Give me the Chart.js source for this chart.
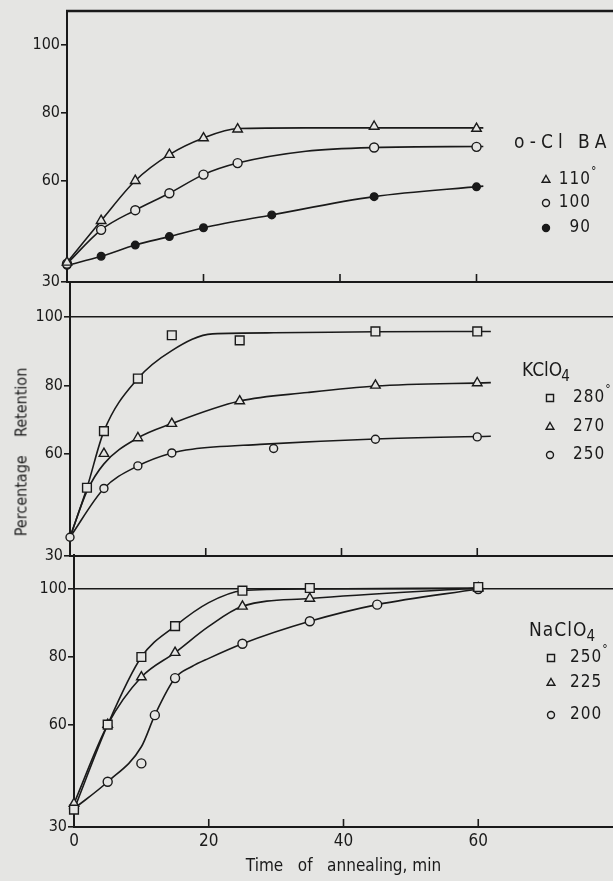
<!DOCTYPE html>
<html>
<head>
<meta charset="utf-8">
<script src="https://cdn.jsdelivr.net/npm/chart.js@4/dist/chart.umd.min.js"></script>
<style>
    html, body { margin: 0; padding: 0; }
    body { width: 613px; height: 881px; background: #e5e5e3; position: relative; overflow: hidden; }
    canvas { position: absolute; left: 0; }
    #yTitle {
        position: absolute; left: 21px; top: 452px;
        transform: translate(-50%, -50%) rotate(-90deg);
        white-space: pre; color: #1c1c1c;
        font: 16px 'DejaVu Sans Condensed', 'Liberation Sans Narrow', 'DejaVu Sans', sans-serif;
    }
</style>
</head>
<body>
<canvas id="panel1" width="613" height="291" style="top:1px"></canvas>
<canvas id="panel2" width="613" height="293" style="top:273px"></canvas>
<canvas id="panel3" width="613" height="336" style="top:545px"></canvas>
<div id="yTitle">Percentage    Retention</div>
<script>
// Axis ticks
const yTicks = [30, 60, 80, 100];
const xTicks = [0, 20, 40, 60];
const innerTicks = [20, 40, 60];

// o-Cl BA (110°, 100°, 90°)
const ocbaTemps = ['110', '100', '90'];
const ocbaTime = [0, 5, 10, 15, 20, 25, 45, 60];
const ocba110 = [35.8, 48.1, 59.9, 67.6, 72.5, 75.1, 75.9, 75.3];
const ocba100 = [35.4, 45.4, 51.2, 56.2, 61.7, 65.1, 69.7, 69.9];
const ocba90Time = [0, 5, 10, 15, 20, 30, 45, 60];
const ocba90 = [34.9, 37.6, 40.9, 43.4, 46.0, 49.8, 55.2, 58.1];
// drawn curves
const ocba110FitTime = [0, 5, 10, 15, 20, 25, 35, 45, 61];
const ocba110Fit = [35.8, 48.1, 59.9, 67.6, 72.5, 75.3, 75.5, 75.5, 75.5];
const ocba100FitTime = [0, 5, 10, 15, 20, 25, 35, 45, 61];
const ocba100Fit = [35.4, 45.4, 51.2, 56.2, 61.7, 65.1, 68.6, 69.7, 70.0];
const ocba90FitTime = [0, 5, 10, 15, 20, 30, 45, 61];
const ocba90Fit = [34.9, 37.6, 40.9, 43.4, 46.0, 49.8, 55.2, 58.3];

// KClO4 (280°, 270°, 250°)
const kcioTemps = ['280', '270', '250'];
const kcio280Time = [2.5, 5, 10, 15, 25, 45, 60];
const kcio280 = [50.0, 66.6, 82.0, 94.7, 93.2, 95.8, 95.8];
const kcio270Time = [5, 10, 15, 25, 45, 60];
const kcio270 = [60.0, 64.6, 68.8, 75.4, 80.0, 80.7];
const kcio250Time = [0, 5, 10, 15, 30, 45, 60];
const kcio250 = [35.5, 49.8, 56.4, 60.2, 61.5, 64.2, 64.9];
const kcio280FitTime = [0, 2.5, 5, 10, 15, 21, 30, 45, 62];
const kcio280Fit = [35.5, 50.0, 66.6, 82.0, 90.2, 95.1, 95.4, 95.7, 95.8];
const kcio270FitTime = [0, 2.5, 5, 10, 15, 25, 35, 45, 62];
const kcio270Fit = [35.5, 49.0, 57.0, 64.6, 68.8, 75.4, 77.9, 79.8, 80.8];
const kcio250FitTime = [0, 5, 10, 15, 18, 28, 45, 62];
const kcio250Fit = [35.5, 49.8, 56.4, 60.2, 61.3, 62.7, 64.3, 65.1];

// NaClO4 (250°, 225°, 200°)
const nacioTemps = ['250', '225', '200'];
const nacio250Time = [0, 5, 10, 15, 25, 35, 60];
const nacio250 = [35.1, 60.1, 80.0, 89.1, 99.5, 100.3, 100.6];
const nacio225Time = [0, 5, 10, 15, 25, 35, 60];
const nacio225 = [36.9, 60.1, 74.1, 81.3, 94.9, 97.2, 100.3];
const nacio200Time = [0, 5, 10, 12, 15, 25, 35, 45, 60];
const nacio200 = [35.4, 43.3, 48.7, 62.9, 73.8, 83.9, 90.5, 95.4, 100.0];
const nacio250FitTime = [0, 5, 10, 15, 20, 25, 35, 60];
const nacio250Fit = [35.1, 60.1, 80.0, 89.1, 96.0, 99.5, 100.0, 100.3];
const nacio225FitTime = [0, 5, 10, 15, 20, 25, 35, 60];
const nacio225Fit = [36.9, 60.1, 74.1, 81.3, 89.0, 94.9, 97.2, 100.3];
const nacio200FitTime = [0, 5, 10, 12, 15, 17.5, 20, 25, 35, 45, 60];
const nacio200Fit = [35.4, 43.3, 53.6, 62.9, 73.8, 77.2, 79.6, 83.9, 90.5, 95.4, 100.0];

const INK = '#1a1a1a';
const PAPER = '#e5e5e3';
const FONT = "'DejaVu Sans Condensed', 'Liberation Sans Narrow', 'DejaVu Sans', sans-serif";

function xy(times, vals) {
    return times.map((t, i) => ({ x: t, y: vals[i] }));
}

function markers(label, times, vals, style, radius, filled) {
    return {
        label: label,
        data: xy(times, vals),
        showLine: false,
        order: 0,
        clip: false,
        pointStyle: style,
        pointRadius: radius,
        pointHoverRadius: radius,
        pointBorderWidth: 1.4,
        pointBorderColor: INK,
        pointBackgroundColor: filled ? INK : PAPER
    };
}

function curve(times, vals) {
    return {
        data: xy(times, vals),
        showLine: true,
        order: 1,
        clip: false,
        pointRadius: 0,
        borderColor: INK,
        borderWidth: 1.6,
        cubicInterpolationMode: 'monotone'
    };
}

// legend in the right margin of each panel
const panelLegend = {
    id: 'panelLegend',
    afterDatasetsDraw(chart, args, opts) {
        const ctx = chart.ctx;
        ctx.save();
        ctx.textBaseline = 'middle';
        ctx.textAlign = 'left';
        ctx.fillStyle = INK;
        ctx.font = opts.titleSize + 'px ' + FONT;
        ctx.letterSpacing = opts.titleSpacing + 'px';
        ctx.fillText(opts.title, opts.titleX, opts.titleY);
        if (opts.sub) {
            const w = ctx.measureText(opts.title).width;
            ctx.font = Math.round(opts.titleSize * 0.8) + 'px ' + FONT;
            ctx.fillText(opts.sub, opts.titleX + w - 1, opts.titleY + 6);
        }
        opts.rowY.forEach((y, i) => {
            const ds = chart.data.datasets[i];
            ctx.strokeStyle = INK;
            ctx.lineWidth = 1.4;
            ctx.fillStyle = ds.pointBackgroundColor;
            Chart.helpers.drawPoint(ctx, {
                pointStyle: ds.pointStyle,
                radius: opts.markerRadius[i],
                borderWidth: 1.4,
                rotation: 0
            }, opts.markerX, y);
            ctx.fillStyle = INK;
            ctx.font = opts.rowSize + 'px ' + FONT;
            ctx.letterSpacing = opts.rowSpacing + 'px';
            ctx.textAlign = opts.rowAlign;
            ctx.fillText(ds.label, opts.textX, y);
            if (i === 0) {
                ctx.textAlign = 'left';
                const w = opts.rowAlign === 'left' ? ctx.measureText(ds.label).width : 0;
                ctx.font = '12px ' + FONT;
                ctx.letterSpacing = '0px';
                ctx.fillText('°', opts.textX + w, y - 8);
            }
        });
        ctx.restore();
    }
};

// inward ticks on the bottom axis and the top frame line
const panelFrame = {
    id: 'panelFrame',
    afterDraw(chart, args, opts) {
        const { ctx, chartArea: a, scales: { x } } = chart;
        ctx.save();
        ctx.strokeStyle = INK;
        ctx.lineWidth = 1.6;
        innerTicks.forEach(v => {
            const px = x.getPixelForValue(v);
            ctx.beginPath();
            ctx.moveTo(px, a.bottom);
            ctx.lineTo(px, a.bottom - 8);
            ctx.stroke();
        });
        if (opts.top) {
            ctx.lineWidth = 2.5;
            ctx.beginPath();
            ctx.moveTo(a.left - 1, a.top);
            ctx.lineTo(a.right, a.top);
            ctx.stroke();
        }
        ctx.restore();
    }
};

function makePanel(id, cfg) {
    return new Chart(document.getElementById(id), {
        type: 'scatter',
        data: { datasets: cfg.datasets },
        options: {
            responsive: false,
            animation: false,
            devicePixelRatio: 1,
            events: [],
            layout: { autoPadding: false, padding: { top: 10, left: 0, right: 0, bottom: 0 } },
            plugins: {
                legend: { display: false },
                tooltip: { enabled: false },
                panelLegend: cfg.legend,
                panelFrame: { top: cfg.frameTop }
            },
            scales: {
                x: {
                    type: 'linear',
                    min: 0,
                    max: 80,
                    afterBuildTicks: s => { s.ticks = xTicks.map(v => ({ value: v })); },
                    afterFit: s => { s.height = cfg.bottom; s.paddingLeft = 0; s.paddingRight = 0; },
                    border: { color: INK, width: 2 },
                    grid: { display: false, drawTicks: false },
                    ticks: { display: cfg.xLabels, color: INK, padding: 4, maxRotation: 0, font: { family: FONT, size: 17 } },
                    title: {
                        display: cfg.xLabels,
                        text: 'Time   of   annealing, min',
                        color: INK,
                        font: { family: FONT, size: 17 },
                        padding: { top: 0, bottom: 4 }
                    }
                },
                y: {
                    type: 'linear',
                    min: 30,
                    max: 110,
                    afterBuildTicks: s => { s.ticks = yTicks.map(v => ({ value: v })); },
                    afterFit: s => { s.width = cfg.left; s.paddingTop = 0; s.paddingBottom = 0; },
                    border: { color: INK, width: 2 },
                    grid: {
                        drawOnChartArea: true,
                        color: c => (cfg.rule100 && c.tick && c.tick.value === 100) ? INK : 'rgba(0,0,0,0)',
                        lineWidth: 1.6,
                        tickColor: INK,
                        tickWidth: 1.6,
                        tickLength: 6
                    },
                    ticks: { color: INK, padding: 1, font: { family: FONT, size: 16 } }
                }
            }
        },
        plugins: [panelLegend, panelFrame]
    });
}

makePanel('panel1', {
    left: 67, bottom: 10, frameTop: true, rule100: false, xLabels: false,
    datasets: [
        markers(ocbaTemps[0], ocbaTime, ocba110, 'triangle', 5.5, false),
        markers(ocbaTemps[1], ocbaTime, ocba100, 'circle', 4.5, false),
        markers(ocbaTemps[2], ocba90Time, ocba90, 'circle', 3.8, true),
        curve(ocba110FitTime, ocba110Fit),
        curve(ocba100FitTime, ocba100Fit),
        curve(ocba90FitTime, ocba90Fit)
    ],
    legend: {
        title: 'o-Cl BA', sub: '', titleX: 514, titleY: 142, titleSize: 19, titleSpacing: 5,
        rowY: [179, 202, 227], markerX: 546, markerRadius: [4.5, 3.5, 3.5],
        textX: 591, rowAlign: 'right', rowSize: 17, rowSpacing: 1
    }
});

makePanel('panel2', {
    left: 70, bottom: 10, frameTop: false, rule100: true, xLabels: false,
    datasets: [
        markers(kcioTemps[0], kcio280Time, kcio280, 'rect', 6.2, false),
        markers(kcioTemps[1], kcio270Time, kcio270, 'triangle', 5.5, false),
        markers(kcioTemps[2], kcio250Time, kcio250, 'circle', 4, false),
        curve(kcio280FitTime, kcio280Fit),
        curve(kcio270FitTime, kcio270Fit),
        curve(kcio250FitTime, kcio250Fit)
    ],
    legend: {
        title: 'KClO', sub: '4', titleX: 522, titleY: 98, titleSize: 19, titleSpacing: 0,
        rowY: [125, 154, 182], markerX: 550, markerRadius: [5, 4.5, 3.5],
        textX: 573, rowAlign: 'left', rowSize: 17, rowSpacing: 1
    }
});

makePanel('panel3', {
    left: 74, bottom: 54, frameTop: false, rule100: true, xLabels: true,
    datasets: [
        markers(nacioTemps[0], nacio250Time, nacio250, 'rect', 6.2, false),
        markers(nacioTemps[1], nacio225Time, nacio225, 'triangle', 5.5, false),
        markers(nacioTemps[2], nacio200Time, nacio200, 'circle', 4.5, false),
        curve(nacio250FitTime, nacio250Fit),
        curve(nacio225FitTime, nacio225Fit),
        curve(nacio200FitTime, nacio200Fit)
    ],
    legend: {
        title: 'NaClO', sub: '4', titleX: 529, titleY: 86, titleSize: 19, titleSpacing: 1,
        rowY: [113, 138, 170], markerX: 551, markerRadius: [5, 4.5, 3.5],
        textX: 570, rowAlign: 'left', rowSize: 17, rowSpacing: 1
    }
});
</script>
</body>
</html>
